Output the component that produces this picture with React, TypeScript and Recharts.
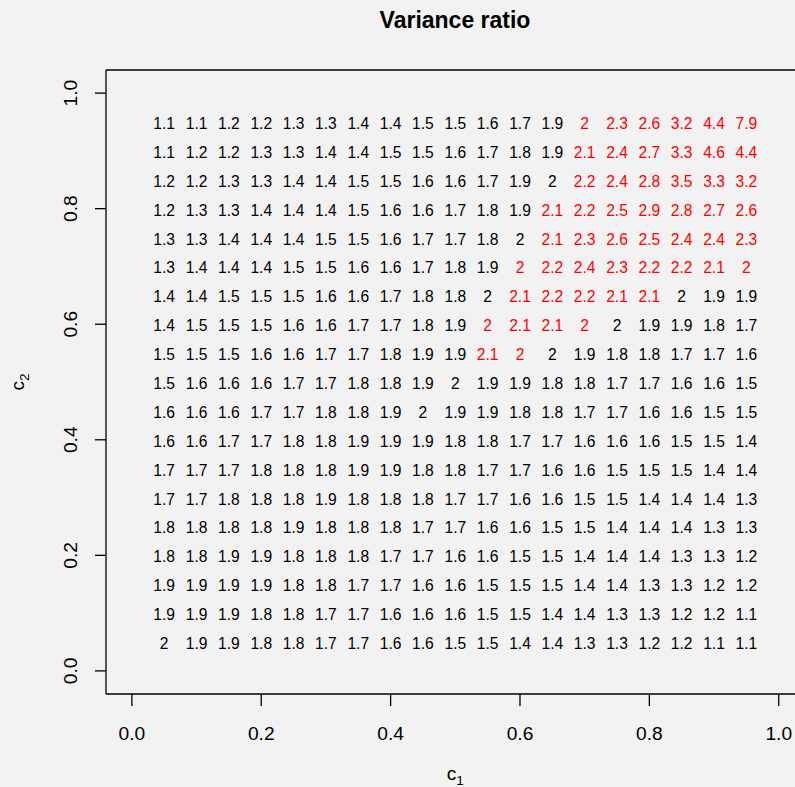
import { ScatterChart, Scatter, XAxis, YAxis, ReferenceLine } from "recharts";

const FONT = '"Liberation Sans", Arial, Helvetica, sans-serif';

const c1Values = [
  0.05, 0.1, 0.15, 0.2, 0.25, 0.3, 0.35, 0.4, 0.45, 0.5, 0.55, 0.6, 0.65, 0.7,
  0.75, 0.8, 0.85, 0.9, 0.95,
];

// top row first
const c2Values = [
  0.95, 0.9, 0.85, 0.8, 0.75, 0.7, 0.65, 0.6, 0.55, 0.5, 0.45, 0.4, 0.35, 0.3,
  0.25, 0.2, 0.15, 0.1, 0.05,
];

const ratioRows = [
  [1.1, 1.1, 1.2, 1.2, 1.3, 1.3, 1.4, 1.4, 1.5, 1.5, 1.6, 1.7, 1.9, 2, 2.3, 2.6, 3.2, 4.4, 7.9],
  [1.1, 1.2, 1.2, 1.3, 1.3, 1.4, 1.4, 1.5, 1.5, 1.6, 1.7, 1.8, 1.9, 2.1, 2.4, 2.7, 3.3, 4.6, 4.4],
  [1.2, 1.2, 1.3, 1.3, 1.4, 1.4, 1.5, 1.5, 1.6, 1.6, 1.7, 1.9, 2, 2.2, 2.4, 2.8, 3.5, 3.3, 3.2],
  [1.2, 1.3, 1.3, 1.4, 1.4, 1.4, 1.5, 1.6, 1.6, 1.7, 1.8, 1.9, 2.1, 2.2, 2.5, 2.9, 2.8, 2.7, 2.6],
  [1.3, 1.3, 1.4, 1.4, 1.4, 1.5, 1.5, 1.6, 1.7, 1.7, 1.8, 2, 2.1, 2.3, 2.6, 2.5, 2.4, 2.4, 2.3],
  [1.3, 1.4, 1.4, 1.4, 1.5, 1.5, 1.6, 1.6, 1.7, 1.8, 1.9, 2, 2.2, 2.4, 2.3, 2.2, 2.2, 2.1, 2],
  [1.4, 1.4, 1.5, 1.5, 1.5, 1.6, 1.6, 1.7, 1.8, 1.8, 2, 2.1, 2.2, 2.2, 2.1, 2.1, 2, 1.9, 1.9],
  [1.4, 1.5, 1.5, 1.5, 1.6, 1.6, 1.7, 1.7, 1.8, 1.9, 2, 2.1, 2.1, 2, 2, 1.9, 1.9, 1.8, 1.7],
  [1.5, 1.5, 1.5, 1.6, 1.6, 1.7, 1.7, 1.8, 1.9, 1.9, 2.1, 2, 2, 1.9, 1.8, 1.8, 1.7, 1.7, 1.6],
  [1.5, 1.6, 1.6, 1.6, 1.7, 1.7, 1.8, 1.8, 1.9, 2, 1.9, 1.9, 1.8, 1.8, 1.7, 1.7, 1.6, 1.6, 1.5],
  [1.6, 1.6, 1.6, 1.7, 1.7, 1.8, 1.8, 1.9, 2, 1.9, 1.9, 1.8, 1.8, 1.7, 1.7, 1.6, 1.6, 1.5, 1.5],
  [1.6, 1.6, 1.7, 1.7, 1.8, 1.8, 1.9, 1.9, 1.9, 1.8, 1.8, 1.7, 1.7, 1.6, 1.6, 1.6, 1.5, 1.5, 1.4],
  [1.7, 1.7, 1.7, 1.8, 1.8, 1.8, 1.9, 1.9, 1.8, 1.8, 1.7, 1.7, 1.6, 1.6, 1.5, 1.5, 1.5, 1.4, 1.4],
  [1.7, 1.7, 1.8, 1.8, 1.8, 1.9, 1.8, 1.8, 1.8, 1.7, 1.7, 1.6, 1.6, 1.5, 1.5, 1.4, 1.4, 1.4, 1.3],
  [1.8, 1.8, 1.8, 1.8, 1.9, 1.8, 1.8, 1.8, 1.7, 1.7, 1.6, 1.6, 1.5, 1.5, 1.4, 1.4, 1.4, 1.3, 1.3],
  [1.8, 1.8, 1.9, 1.9, 1.8, 1.8, 1.8, 1.7, 1.7, 1.6, 1.6, 1.5, 1.5, 1.4, 1.4, 1.4, 1.3, 1.3, 1.2],
  [1.9, 1.9, 1.9, 1.9, 1.8, 1.8, 1.7, 1.7, 1.6, 1.6, 1.5, 1.5, 1.5, 1.4, 1.4, 1.3, 1.3, 1.2, 1.2],
  [1.9, 1.9, 1.9, 1.8, 1.8, 1.7, 1.7, 1.6, 1.6, 1.6, 1.5, 1.5, 1.4, 1.4, 1.3, 1.3, 1.2, 1.2, 1.1],
  [2, 1.9, 1.9, 1.8, 1.8, 1.7, 1.7, 1.6, 1.6, 1.5, 1.5, 1.4, 1.4, 1.3, 1.3, 1.2, 1.2, 1.1, 1.1],
];

// columns (0-based, inclusive) printed in red for each row, i.e. ratio above 2
const aboveTwo: ([number, number] | null)[] = [
  [13, 18],
  [13, 18],
  [13, 18],
  [12, 18],
  [12, 18],
  [11, 18],
  [11, 15],
  [10, 13],
  [10, 11],
  null, null, null, null, null, null, null, null, null, null,
];

const axisTicks = [0, 0.2, 0.4, 0.6, 0.8, 1];

const cells = c2Values.flatMap((c2, r) =>
  c1Values.map((c1, c) => {
    const span = aboveTwo[r];
    return {
      x: c1,
      y: c2,
      ratio: ratioRows[r][c],
      red: span ? c >= span[0] && c <= span[1] : false,
    };
  })
);

const RatioLabel = (props: any) => {
  const { cx, cy } = props;
  const p = props.payload ?? props;
  return (
    <text
      x={cx}
      y={cy}
      dy="0.45em"
      textAnchor="middle"
      fontSize={15.6}
      fontFamily={FONT}
      fill={p.red ? "#ff0000" : "#000"}
    >
      {String(p.ratio)}
    </text>
  );
};

const XTick = (props: any) => {
  const { x, y, payload } = props;
  return (
    <text x={x} y={y + 34} textAnchor="middle" fontSize={19.2} fontFamily={FONT} fill="#000">
      {Number(payload.value).toFixed(1)}
    </text>
  );
};

const YTick = (props: any) => {
  const { x, y, payload } = props;
  const bx = x - 18;
  return (
    <text
      x={bx}
      y={y}
      transform={`rotate(-90, ${bx}, ${y})`}
      textAnchor="middle"
      fontSize={19.2}
      fontFamily={FONT}
      fill="#000"
    >
      {Number(payload.value).toFixed(1)}
    </text>
  );
};

const XTitle = (props: any) => {
  const vb = props.viewBox ?? { x: 106, y: 694, width: 698.6, height: 60 };
  const cx = vb.x + vb.width / 2;
  const by = vb.y + 86;
  return (
    <text x={cx} y={by} textAnchor="middle" fontSize={19.2} fontFamily={FONT} fill="#000">
      <tspan>c</tspan>
      <tspan fontSize={13.5} dy={5}>1</tspan>
    </text>
  );
};

const YTitle = (props: any) => {
  const vb = props.viewBox ?? { x: 0, y: 70, width: 106, height: 624 };
  const cy = vb.y + vb.height / 2;
  const bx = 24;
  return (
    <text
      x={bx}
      y={cy}
      transform={`rotate(-90, ${bx}, ${cy})`}
      textAnchor="middle"
      fontSize={19.2}
      fontFamily={FONT}
      fill="#000"
    >
      <tspan>c</tspan>
      <tspan fontSize={13.5} dy={5}>2</tspan>
    </text>
  );
};

export default function App() {
  return (
    <div
      style={{
        position: "fixed",
        left: 0,
        top: 0,
        width: 795,
        height: 787,
        overflow: "hidden",
        background: "#f2f2f2",
        fontFamily: FONT,
      }}
    >
      <ScatterChart width={820} height={787} margin={{ top: 70, right: 15.4, bottom: 33, left: 0 }}>
        <XAxis
          type="number"
          dataKey="x"
          domain={[-0.04, 1.04]}
          allowDataOverflow
          ticks={axisTicks}
          interval={0}
          height={60}
          tickSize={12}
          tickMargin={0}
          axisLine={{ stroke: "#000", strokeWidth: 1.3 }}
          tickLine={{ stroke: "#000", strokeWidth: 1.3 }}
          tick={<XTick />}
          label={<XTitle />}
        />
        <YAxis
          type="number"
          dataKey="y"
          domain={[-0.04, 1.04]}
          allowDataOverflow
          ticks={axisTicks}
          interval={0}
          width={106}
          tickSize={11}
          tickMargin={0}
          axisLine={{ stroke: "#000", strokeWidth: 1.3 }}
          tickLine={{ stroke: "#000", strokeWidth: 1.3 }}
          tick={<YTick />}
          label={<YTitle />}
        />
        <ReferenceLine y={1.04} stroke="#000" strokeWidth={1.3} />
        <ReferenceLine x={1.04} stroke="#000" strokeWidth={1.3} />
        <Scatter data={cells} shape={<RatioLabel />} isAnimationActive={false} />
      </ScatterChart>
      <div
        style={{
          position: "absolute",
          top: 9,
          left: 0,
          width: 910,
          textAlign: "center",
          fontWeight: "bold",
          fontSize: 23,
          lineHeight: "23px",
        }}
      >
        Variance ratio
      </div>
    </div>
  );
}
